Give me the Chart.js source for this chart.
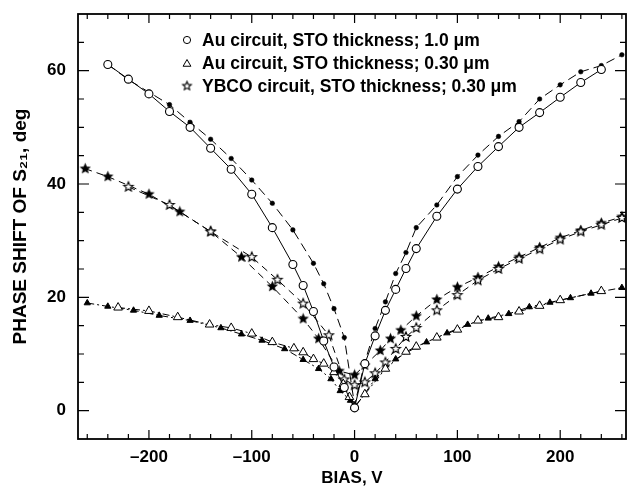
<!DOCTYPE html>
<html>
<head>
<meta charset="utf-8">
<script src="https://cdn.jsdelivr.net/npm/chart.js@4.4.1/dist/chart.umd.min.js"></script>
<style>
  html, body { margin: 0; padding: 0; background: #fff; overflow: hidden; }
  #wrap { width: 627px; height: 489px; overflow: hidden; }
</style>
</head>
<body>
<div id="wrap"><canvas id="MyChart" width="632" height="489"></canvas></div>
<script>
// tick labels
const xTickLabels = [-200, -100, 0, 100, 200];
const yTickLabels = [0, 20, 40, 60];

const legendLabels = [
  'Au circuit, STO thickness; 1.0 μm',
  'Au circuit, STO thickness; 0.30 μm',
  'YBCO circuit, STO thickness; 0.30 μm'
];

// Au circuit, 1.0 um - open circles
const auThickOpenX = [-240,-220,-200,-180,-160,-140,-120,-100,-80,-60,-50,-40,-30,-20,-10,0,10,20,30,40,50,60,80,100,120,140,160,180,200,220,240];
const auThickOpenY = [61.1,58.5,55.9,52.8,50.0,46.3,42.6,38.2,32.3,25.8,22.1,17.5,12.3,7.7,4.1,0.5,8.3,13.2,17.7,21.4,25.1,28.6,34.3,39.1,43.1,46.6,50.0,52.6,55.3,57.9,60.2];
// Au circuit, 1.0 um - filled dots
const auThickFillX = [-240,-220,-200,-180,-160,-140,-120,-100,-80,-60,-40,-30,-20,-10,0,10,20,30,40,50,60,80,100,120,140,160,180,200,220,240,260];
const auThickFillY = [61.1,58.4,56.2,54.0,50.9,47.9,44.5,40.7,36.6,31.9,26.0,22.4,18.0,12.9,1.0,8.6,14.5,19.2,24.2,27.9,32.3,36.3,41.3,45.1,48.4,51.0,55.0,57.5,59.8,60.9,62.8];

// Au circuit, 0.30 um - open triangles
const auThinOpenX = [-230,-200,-172,-141,-120,-100,-80,-59,-50,-40,-30,-20,-11,-5,0,10,30,50,60,80,100,120,140,160,180,200,240];
const auThinOpenY = [18.2,17.6,16.5,15.2,14.6,13.6,12.1,11.0,10.3,9.1,8.3,6.8,4.7,2.4,0.7,2.9,7.4,10.4,11.3,12.9,14.3,15.9,16.5,17.5,18.5,19.5,21.1];
// Au circuit, 0.30 um - filled triangles
const auThinFillX = [-260,-240,-215,-190,-160,-130,-110,-90,-68,-50,-35,-23,-14,-4,0,20,40,60,70,90,110,130,150,170,190,210,230,260];
const auThinFillY = [19.0,18.4,17.7,16.8,15.9,14.6,13.5,12.4,10.9,9.0,7.4,5.6,3.5,1.8,0.5,5.6,9.1,11.2,12.1,13.7,15.2,16.3,17.1,18.3,19.1,19.9,20.7,21.7];

// YBCO circuit, 0.30 um - open stars
const ybcoOpenX = [-220,-180,-140,-100,-75,-50,-25,-10,0,10,20,30,40,50,60,80,100,120,140,160,180,200,220,240,260];
const ybcoOpenY = [39.5,36.3,31.6,27.1,23.1,18.9,13.3,5.5,4.5,5.0,6.6,8.5,10.9,13.0,14.6,17.7,20.4,23.0,25.0,26.8,28.5,30.2,31.6,32.8,34.0];
// YBCO circuit, 0.30 um - filled stars
const ybcoFillX = [-262,-240,-200,-170,-140,-110,-80,-50,-35,-15,0,10,25,35,45,60,80,100,120,140,160,180,200,220,240,260];
const ybcoFillY = [42.7,41.3,38.2,35.1,31.6,27.1,21.9,16.2,12.7,7.0,6.3,8.0,10.6,12.7,14.2,16.7,19.6,21.8,23.5,25.4,27.1,28.8,30.5,31.8,33.1,34.2];

function pts(xs, ys) {
  return xs.map((x, i) => ({ x: x, y: ys[i] }));
}

function makeStar(r, filled) {
  const c = document.createElement('canvas');
  const s = Math.ceil(r * 2 + 4);
  c.width = s; c.height = s;
  const g = c.getContext('2d');
  g.beginPath();
  for (let i = 0; i < 10; i++) {
    const a = -Math.PI / 2 + i * Math.PI / 5;
    const rr = i % 2 === 0 ? r : r * 0.45;
    const px = s / 2 + rr * Math.cos(a), py = s / 2 + rr * Math.sin(a);
    if (i === 0) g.moveTo(px, py); else g.lineTo(px, py);
  }
  g.closePath();
  g.fillStyle = filled ? '#000' : '#fff';
  g.fill();
  g.lineWidth = 1.1;
  g.strokeStyle = '#000';
  g.stroke();
  return c;
}

const openStar = makeStar(5, false);
const fillStar = makeStar(4.5, true);
const legendStar = makeStar(4.5, false);

const FONT = '"Liberation Sans", Arial, Helvetica, sans-serif';

// frame with inward ticks on all four sides
const frameTicks = {
  id: 'frameTicks',
  afterDraw(chart) {
    const { ctx, chartArea: a } = chart;
    const x = chart.scales.x, y = chart.scales.y;
    ctx.save();
    ctx.strokeStyle = '#000';
    ctx.lineWidth = 1.8;
    ctx.strokeRect(a.left, a.top, a.right - a.left, a.bottom - a.top);
    ctx.lineWidth = 1.2;
    ctx.beginPath();
    for (let v = -260; v <= 260; v += 20) {
      const px = x.getPixelForValue(v);
      const len = v % 100 === 0 ? 9 : 5;
      ctx.moveTo(px, a.bottom); ctx.lineTo(px, a.bottom - len);
      ctx.moveTo(px, a.top); ctx.lineTo(px, a.top + len);
    }
    for (let v = 0; v <= 65; v += 5) {
      const py = y.getPixelForValue(v);
      const len = v % 20 === 0 ? 11 : 6;
      ctx.moveTo(a.left, py); ctx.lineTo(a.left + len, py);
      ctx.moveTo(a.right, py); ctx.lineTo(a.right - len, py);
    }
    ctx.stroke();
    ctx.restore();
  }
};

// legend inside the plot area
const insideLegend = {
  id: 'insideLegend',
  afterDraw(chart) {
    const ctx = chart.ctx;
    const a = chart.chartArea;
    const symX = a.left + 109;
    const textX = a.left + 124;
    const rows = [a.top + 26, a.top + 49, a.top + 72];
    ctx.save();
    ctx.font = 'bold 17.5px ' + FONT;
    ctx.textBaseline = 'middle';
    ctx.textAlign = 'left';
    legendLabels.forEach((t, i) => {
      const yy = rows[i];
      ctx.fillStyle = '#fff';
      ctx.strokeStyle = '#000';
      ctx.lineWidth = 1;
      if (i === 0) {
        Chart.helpers.drawPoint(ctx, { pointStyle: 'circle', radius: 3.6, borderWidth: 1, rotation: 0 }, symX, yy);
      } else if (i === 1) {
        Chart.helpers.drawPoint(ctx, { pointStyle: 'triangle', radius: 4.5, borderWidth: 1, rotation: 0 }, symX, yy + 1);
      } else {
        ctx.drawImage(legendStar, symX - legendStar.width / 2, yy - legendStar.height / 2);
      }
      ctx.fillStyle = '#000';
      ctx.fillText(t, textX, yy + 1);
    });
    ctx.restore();
  }
};

const ctx = document.getElementById('MyChart').getContext('2d');

new Chart(ctx, {
  type: 'scatter',
  data: {
    datasets: [
      {
        label: legendLabels[0],
        data: pts(auThickOpenX, auThickOpenY),
        showLine: true,
        borderColor: '#000',
        borderWidth: 1,
        pointStyle: 'circle',
        pointRadius: 4,
        pointBorderWidth: 1.1,
        pointBackgroundColor: '#fff',
        pointBorderColor: '#000'
      },
      {
        label: 'Au 1.0 filled',
        data: pts(auThickFillX, auThickFillY),
        showLine: true,
        borderColor: '#000',
        borderWidth: 1,
        borderDash: [9, 5],
        pointStyle: 'circle',
        pointRadius: 2.3,
        pointBorderWidth: 0.5,
        pointBackgroundColor: '#000',
        pointBorderColor: '#000'
      },
      {
        label: legendLabels[1],
        data: pts(auThinOpenX, auThinOpenY),
        showLine: true,
        borderColor: '#000',
        borderWidth: 1,
        borderDash: [7, 3, 2, 3],
        pointStyle: 'triangle',
        pointRadius: 5,
        pointBorderWidth: 1,
        pointBackgroundColor: '#fff',
        pointBorderColor: '#000'
      },
      {
        label: 'Au 0.30 filled',
        data: pts(auThinFillX, auThinFillY),
        showLine: true,
        borderColor: '#000',
        borderWidth: 1,
        borderDash: [7, 3, 2, 3],
        pointStyle: 'triangle',
        pointRadius: 3.6,
        pointBorderWidth: 1,
        pointBackgroundColor: '#000',
        pointBorderColor: '#000'
      },
      {
        label: legendLabels[2],
        data: pts(ybcoOpenX, ybcoOpenY),
        showLine: true,
        borderColor: '#000',
        borderWidth: 1,
        borderDash: [7, 5],
        pointStyle: openStar,
        pointRadius: 5
      },
      {
        label: 'YBCO filled',
        data: pts(ybcoFillX, ybcoFillY),
        showLine: true,
        borderColor: '#000',
        borderWidth: 1,
        borderDash: [7, 5],
        pointStyle: fillStar,
        pointRadius: 5
      }
    ]
  },
  options: {
    responsive: false,
    animation: false,
    layout: { padding: { top: 14, right: 2, left: 0, bottom: 0 } },
    plugins: {
      legend: { display: false },
      tooltip: { enabled: false }
    },
    scales: {
      x: {
        type: 'linear',
        min: -269,
        max: 264,
        afterBuildTicks: (s) => { s.ticks = xTickLabels.map(v => ({ value: v })); },
        afterFit: (s) => { s.height = 50; s.paddingLeft = 0; s.paddingRight = 0; },
        grid: { display: false, drawTicks: false },
        border: { display: false },
        ticks: {
          color: '#000',
          padding: 8,
          font: { family: FONT, size: 17, weight: 'bold' },
          callback: (v) => String(v).replace('-', '\u2013')
        },
        title: {
          display: true,
          text: 'BIAS, V',
          color: '#000',
          font: { family: FONT, size: 17, weight: 'bold' },
          padding: { top: 0, bottom: 0 }
        }
      },
      y: {
        type: 'linear',
        min: -5,
        max: 70,
        afterBuildTicks: (s) => { s.ticks = yTickLabels.map(v => ({ value: v })); },
        afterFit: (s) => { s.width = 78; s.paddingTop = 0; s.paddingBottom = 0; },
        grid: { display: false, drawTicks: false },
        border: { display: false },
        ticks: {
          color: '#000',
          padding: 12,
          font: { family: FONT, size: 17, weight: 'bold' }
        },
        title: {
          display: true,
          text: 'PHASE SHIFT OF S₂₁, deg',
          color: '#000',
          font: { family: FONT, size: 19, weight: 'bold' },
          padding: { top: 9, bottom: 0 }
        }
      }
    }
  },
  plugins: [frameTicks, insideLegend]
});
</script>
</body>
</html>
